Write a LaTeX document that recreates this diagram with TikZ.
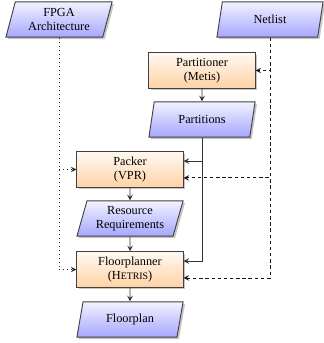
\documentclass[tikz,border=0pt]{standalone}
\usepackage{fontspec}
\setmainfont{Liberation Serif}
\usetikzlibrary{shapes.geometric, arrows.meta, shadows}

\newcommand{\hetris}{H{\fontsize{6.4}{7}\selectfont ETRIS}}

\begin{document}
\begin{tikzpicture}[
    x=0.65pt, y=-0.65pt,
    >=stealth,
    font=\fontsize{8}{9.2}\selectfont,
    tool/.style={rectangle, draw=black!75, semithick, top color=orange!5, bottom color=orange!35, minimum width=69pt, minimum height=23pt, align=center, drop shadow={shadow xshift=1.3pt, shadow yshift=-1.3pt, opacity=0.45}},
    file/.style={trapezium, trapezium left angle=74, trapezium right angle=106, trapezium stretches body, draw=black!75, semithick, top color=blue!5, bottom color=blue!35, minimum width=69pt, minimum height=23pt, align=center, drop shadow={shadow xshift=1.3pt, shadow yshift=-1.3pt, opacity=0.45}},
    arrow/.style={->, semithick, draw=black!80},
    netflow/.style={->, semithick, dash pattern=on 2.2pt off 1.8pt, draw=black!90},
    archflow/.style={->, semithick, dotted, draw=black!85}
]
\useasboundingbox (0,0) rectangle (323,343);

% ==================== Inputs ====================
\node[file] (Arch) at (59, 19.5) {FPGA\\Architecture};
\node[file] (Netlist) at (270, 19.5) {Netlist};

% ==================== Partitioning ====================
\node[tool] (Partitioner) at (202, 70.5) {Partitioner\\(Metis)};
\node[file] (Partitions) at (202, 119.5) {Partitions};

% ==================== Packing & Floorplanning ====================
\node[tool] (Packer) at (130, 169.5) {Packer\\(VPR)};
\node[file] (ResReq) at (130, 218.5) {Resource\\Requirements};
\node[tool] (Floorplanner) at (130, 269.5) {Floorplanner\\(\hetris)};
\node[file] (Floorplan) at (130, 319.5) {Floorplan};

% main chain
\draw[arrow] (Partitioner.south) -- (Partitions.north);
\draw[arrow] (Packer.south) -- (ResReq.north);
\draw[arrow] (ResReq.south) -- (Floorplanner.north);
\draw[arrow] (Floorplanner.south) -- (Floorplan.north);

% partitions feed packer and floorplanner
\draw[arrow] (Partitions.south) |- ([yshift=5.5pt]Packer.east);
\draw[arrow] (Partitions.south) |- ([yshift=5.5pt]Floorplanner.east);

% netlist
\draw[netflow] (Netlist.south) |- (Partitioner.east);
\draw[netflow] (Netlist.south) |- ([yshift=-5.5pt]Packer.east);
\draw[netflow] (Netlist.south) |- ([yshift=-5.5pt]Floorplanner.east);

% architecture
\draw[archflow] (Arch.south) |- (Packer.west);
\draw[archflow] (Arch.south) |- (Floorplanner.west);

\end{tikzpicture}
\end{document}
